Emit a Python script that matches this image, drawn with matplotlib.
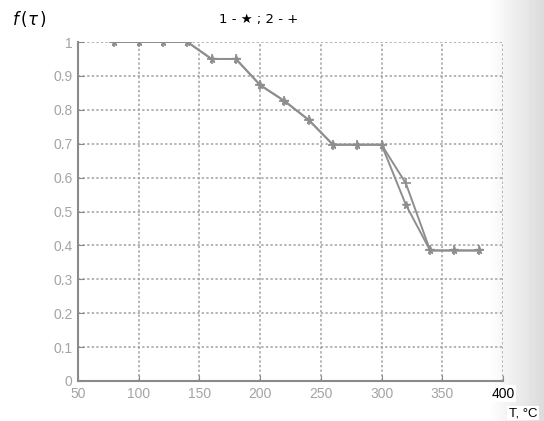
import numpy as np
import matplotlib
matplotlib.use("Agg")
import matplotlib.pyplot as plt

# temperatures, C
temps = [80, 100, 120, 140, 160, 180, 200, 220, 240, 260, 280, 300, 320, 340, 360, 380]
# series 1 (*) and series 2 (+)
f_star = [1.0, 1.0, 1.0, 1.0, 0.95, 0.95, 0.873, 0.826, 0.77, 0.697, 0.697, 0.697, 0.52, 0.385, 0.385, 0.385]
f_plus = [1.0, 1.0, 1.0, 1.0, 0.95, 0.95, 0.873, 0.826, 0.77, 0.697, 0.697, 0.697, 0.583, 0.385, 0.385, 0.385]

xticks = [50, 100, 150, 200, 250, 300, 350, 400]
yticks = [0, 0.1, 0.2, 0.3, 0.4, 0.5, 0.6, 0.7, 0.8, 0.9, 1]
ylabels = ["0", "0.1", "0.2", "0.3", "0.4", "0.5", "0.6", "0.7", "0.8", "0.9", "1"]

plt.rcParams['font.family'] = ['Liberation Sans', 'DejaVu Sans']

fig = plt.figure(figsize=(5.44, 4.21), dpi=100)

# scanned page shading on the right edge
bg = fig.add_axes([0, 0, 1, 1], zorder=-10)
grad = np.clip((np.linspace(0, 1, 544) - 0.9) / 0.1, 0, 1)
img = 1 - 0.14 * np.tile(grad, (421, 1))
bg.imshow(img, cmap='gray', vmin=0, vmax=1, aspect='auto', extent=[0, 1, 0, 1])
bg.axis('off')

ax = fig.add_axes([78 / 544, 1 - 381 / 421, 425 / 544, 339 / 421])
ax.patch.set_alpha(0)

gray = '#8e8e8e'
ax.plot(temps, f_star, color=gray, lw=1.4, marker='*', ms=5.5, mec=gray, mfc=gray)
ax.plot(temps, f_plus, color=gray, lw=1.4, marker='+', ms=7, mew=1.2, mec=gray)

ax.set_xlim(50, 400)
ax.set_ylim(0, 1)
ax.set_xticks(xticks)
ax.set_yticks(yticks)
ax.set_yticklabels(ylabels)
ax.grid(True, linestyle=(0, (1.5, 1.5)), color='#a0a0a0', lw=1.1)

for s in ['top', 'right']:
    ax.spines[s].set_visible(False)
for s in ['left', 'bottom']:
    ax.spines[s].set_color('#8a8a8a')
    ax.spines[s].set_linewidth(1.5)

ax.tick_params(direction='in', length=4, color='#8a8a8a', labelcolor='#a4a4a4',
               labelsize=10, pad=4)
ax.get_xticklabels()[-1].set_color('black')
ax.get_xticklabels()[-1].set_bbox(dict(facecolor='white', edgecolor='none', pad=1))

fig.text(259 / 544, 1 - 19 / 421, "1 - \u2605 ; 2 - +", ha='center', va='center',
         fontsize=9.5, color='black', family=['DejaVu Sans'])
fig.text(12 / 544, 1 - 19 / 421, r"$f\,(\tau\,)$", ha='left', va='center',
         fontsize=12, color='black')
fig.text(523 / 544, 1 - 413 / 421, "T, \u00b0C", ha='center', va='center',
         fontsize=9.5, color='black',
         bbox=dict(facecolor='white', edgecolor='none', pad=1))

fig.savefig("out.png", dpi=100)
